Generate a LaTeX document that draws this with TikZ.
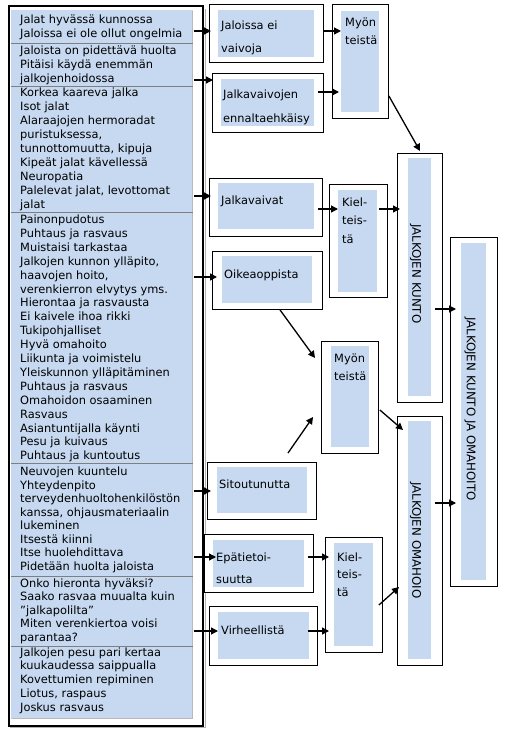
\documentclass[tikz,border=0pt]{standalone}
\usepackage{fontspec}
\setmainfont{DejaVu Sans}
\usetikzlibrary{arrows.meta,calc}
\definecolor{lb}{HTML}{C6D9F1}
\definecolor{sepc}{HTML}{7F7F7F}
\begin{document}
\begin{tikzpicture}[x=1pt,y=-1pt,
  frame/.style={draw=black, line width=0.9pt, fill=white, anchor=north west, inner sep=0pt},
  inbox/.style={fill=lb, anchor=north west, inner sep=0pt},
  txt/.style={anchor=base west, inner sep=0pt, font=\fontsize{11.4}{13.9}\selectfont},
  vtxt/.style={rotate=-90, anchor=west, inner sep=0pt, font=\fontsize{11.8}{14}\selectfont},
  arr/.style={-{Triangle[length=7pt,width=7pt]}, line width=1.3pt},
  sepline/.style={draw=sepc, line width=0.9pt}]
\useasboundingbox (0,0) rectangle (532,733);

% ---------- left column ----------
\draw[gray!60, line width=1pt] (205,9) -- (205,727.5) -- (10,727.5);
\node[draw=black, line width=2.4pt, anchor=north west, inner sep=0pt,
      minimum width=193.5pt, minimum height=719.5pt] (col) at (8,5) {};
\node[inbox, minimum width=182pt, minimum height=709pt] (colin) at (11,10) {};
\draw[gray!55, line width=1.6pt] (192.5,11) -- (192.5,718.5) -- (12,718.5);
\foreach \yy [count=\k] in {43,86,212,463,576,646}
  \draw[sepline] (11,\yy) -- (193,\yy);

\foreach \t [count=\i] in {Jalat hyvässä kunnossa, Jaloissa ei ole ollut ongelmia}
  \node[txt] (sa\i) at (20,{24+(\i-1)*13.4}) {\t};
\foreach \t [count=\i] in {Jaloista on pidettävä huolta, Pitäisi käydä enemmän, jalkojenhoidossa}
  \node[txt] (sb\i) at (20,{55+(\i-1)*13.9}) {\t};
\foreach \t [count=\i] in {Korkea kaareva jalka, Isot jalat, Alaraajojen hermoradat, {puristuksessa,}, {tunnottomuutta, kipuja}, Kipeät jalat kävellessä, Neuropatia, {Palelevat jalat, levottomat}, jalat}
  \node[txt] (sc\i) at (20,{97+(\i-1)*13.9}) {\t};
\foreach \t [count=\i] in {Painonpudotus, Puhtaus ja rasvaus, Muistaisi tarkastaa, {Jalkojen kunnon ylläpito,}, {haavojen hoito,}, verenkierron elvytys yms., Hierontaa ja rasvausta, Ei kaivele ihoa rikki, Tukipohjalliset, Hyvä omahoito, Liikunta ja voimistelu, Yleiskunnon ylläpitäminen, Puhtaus ja rasvaus, Omahoidon osaaminen, Rasvaus, Asiantuntijalla käynti, Pesu ja kuivaus, Puhtaus ja kuntoutus}
  \node[txt] (sd\i) at (20,{223.5+(\i-1)*13.9}) {\t};
\foreach \t [count=\i] in {Neuvojen kuuntelu, Yhteydenpito, terveydenhuoltohenkilöstön, {kanssa, ohjausmateriaalin}, lukeminen, Itsestä kiinni, Itse huolehdittava, Pidetään huolta jaloista}
  \node[txt] (se\i) at (20,{475.5+(\i-1)*13.55}) {\t};
\foreach \t [count=\i] in {Onko hieronta hyväksi?, Saako rasvaa muualta kuin, ”jalkapolilta”, Miten verenkiertoa voisi, parantaa?}
  \node[txt] (sf\i) at (20,{587+(\i-1)*13.5}) {\t};
\foreach \t [count=\i] in {Jalkojen pesu pari kertaa, kuukaudessa saippualla, Kovettumien repiminen, {Liotus, raspaus}, Joskus rasvaus}
  \node[txt] (sg\i) at (20,{656+(\i-1)*13.9}) {\t};

% ---------- middle boxes ----------
\node[frame, minimum width=114pt, minimum height=58pt] (b1) at (209,4) {};
\node[inbox, minimum width=96pt, minimum height=47pt] (b1i) at (218,10) {};
\node[txt] (b1t1) at (221,30) {Jaloissa ei};
\node[txt] (b1t2) at (221,53) {vaivoja};

\node[frame, minimum width=111pt, minimum height=59pt] (b2) at (212,73) {};
\node[inbox, minimum width=93pt, minimum height=47pt] (b2i) at (221,79) {};
\node[txt] (b2t1) at (223,99) {Jalkavaivojen};
\node[txt] (b2t2) at (223,122) {ennaltaehkäisy};

\node[frame, minimum width=56pt, minimum height=114pt] (m1) at (332,4) {};
\node[inbox, minimum width=38pt, minimum height=101pt] (m1i) at (341,11) {};
\node[txt] (m1t1) at (345,27) {Myön};
\node[txt] (m1t2) at (345,45) {teistä};

\node[frame, minimum width=113pt, minimum height=58pt] (b3) at (209,178) {};
\node[inbox, minimum width=96pt, minimum height=46pt] (b3i) at (218,183) {};
\node[txt] (b3t) at (221,204) {Jalkavaivat};

\node[frame, minimum width=58pt, minimum height=113pt] (k1) at (329,184) {};
\node[inbox, minimum width=39pt, minimum height=102pt] (k1i) at (338,190) {};
\node[txt] (k1t1) at (342,206) {Kiel-};
\node[txt] (k1t2) at (342,224) {teis-};
\node[txt] (k1t3) at (342,243) {tä};

\node[frame, minimum width=110pt, minimum height=58pt] (b4) at (212,251) {};
\node[inbox, minimum width=90pt, minimum height=47pt] (b4i) at (222,256) {};
\node[txt] (b4t) at (224,278) {Oikeaoppista};

\node[frame, minimum width=57pt, minimum height=112pt] (m2) at (321,341) {};
\node[inbox, minimum width=38pt, minimum height=101pt] (m2i) at (331,346) {};
\node[txt] (m2t1) at (334,362) {Myön};
\node[txt] (m2t2) at (334,380) {teistä};

\node[frame, minimum width=109pt, minimum height=57pt] (b5) at (207,462) {};
\node[inbox, minimum width=90pt, minimum height=46pt] (b5i) at (217,467) {};
\node[txt] (b5t) at (219,488) {Sitoutunutta};

\node[frame, minimum width=109pt, minimum height=58pt] (b6) at (204,534) {};
\node[inbox, minimum width=91pt, minimum height=47pt] (b6i) at (213,540) {};
\node[txt] (b6t1) at (216,561) {Epätietoi-};
\node[txt] (b6t2) at (216,583) {suutta};

\node[frame, minimum width=108pt, minimum height=59pt] (b7) at (209,606) {};
\node[inbox, minimum width=91pt, minimum height=47pt] (b7i) at (218,612) {};
\node[txt] (b7t) at (221,634) {Virheellistä};

\node[frame, minimum width=57pt, minimum height=115pt] (k2) at (325,537) {};
\node[inbox, minimum width=39pt, minimum height=103pt] (k2i) at (334,543) {};
\node[txt] (k2t1) at (337,561) {Kiel-};
\node[txt] (k2t2) at (337,578) {teis-};
\node[txt] (k2t3) at (337,596) {tä};

% ---------- right boxes ----------
\node[frame, minimum width=45pt, minimum height=249pt] (K) at (397,153) {};
\node[inbox, minimum width=23pt, minimum height=238pt] (Ki) at (408,158) {};
\node[vtxt] (Kt) at (415.5,224) {JALKOJEN KUNTO};

\node[frame, minimum width=45pt, minimum height=249pt] (O) at (397,416) {};
\node[inbox, minimum width=23pt, minimum height=238pt] (Oi) at (408,421) {};
\node[vtxt] (Ot) at (415.5,482) {JALKOJEN OMAHOIO};

\node[frame, minimum width=47pt, minimum height=349pt] (B) at (450,237) {};
\node[inbox, minimum width=25pt, minimum height=337pt] (Bi) at (461,243) {};
\node[vtxt] (Bt) at (470,317) {JALKOJEN KUNTO JA OMAHOITO};

% ---------- arrows ----------
\coordinate (a1) at (194,31);
\coordinate (a2) at (194,80);
\coordinate (a3) at (194,196);
\coordinate (a4) at (194,277);
\coordinate (a5) at (194,491);
\coordinate (a6) at (194,557);
\coordinate (a7) at (194,631);
\draw[arr] (a1) -- ($(a1 -| b1.west)+(2,0)$);
\draw[arr] (a2) -- ($(a2 -| b2.west)+(1,0)$);
\draw[arr] (a3) -- ($(a3 -| b3.west)+(2,0)$);
\draw[arr] (a4) -- ($(a4 -| b4.west)+(5,0)$);
\draw[arr] (a5) -- ($(a5 -| b5.west)+(4,0)$);
\draw[arr] (a6) -- ($(a6 -| b6i.west)+(3,0)$);
\draw[arr] (a7) -- ($(a7 -| b7i.west)$);

\coordinate (c8) at (323,31);
\draw[arr] (c8) -- (c8 -| m1i.west);
\coordinate (c9) at (318,92);
\draw[arr] (c9) -- ($(c9 -| m1i.west)+(-2,0)$);
\draw[arr] (m1.east |- 0,96) -- ($(K.north west)+(23,-2)$);
\coordinate (c11) at (318,209);
\draw[arr] (c11) -- (c11 -| k1i.west);
\coordinate (c12) at (379,209);
\draw[arr] (c12) -- ($(c12 -| K.west)+(3,0)$);
\coordinate (c13) at (435,309);
\draw[arr] (c13) -- ($(c13 -| B.west)+(6,0)$);
\draw[arr] ($(b4.south west)+(68,0)$) -- ($(m2.north west)+(-6,17)$);
\draw[arr] ($(b5.north west)+(81,-9)$) -- ($(m2.north west)+(-8,76)$);
\draw[arr] ($(m2.north east)+(1,69)$) -- ($(O.north west)+(6,14)$);
\coordinate (c17) at (308,557);
\draw[arr] (c17) -- ($(c17 -| k2.west)+(4,0)$);
\coordinate (c18) at (308,631);
\draw[arr] (c18) -- ($(c18 -| k2.west)+(4,0)$);
\draw[arr] ($(k2.north east)+(-4,68)$) -- ($(O.north west)+(2,171)$);
\coordinate (c20) at (435,503);
\draw[arr] (c20) -- ($(c20 -| B.west)+(6,0)$);
\end{tikzpicture}
\end{document}
